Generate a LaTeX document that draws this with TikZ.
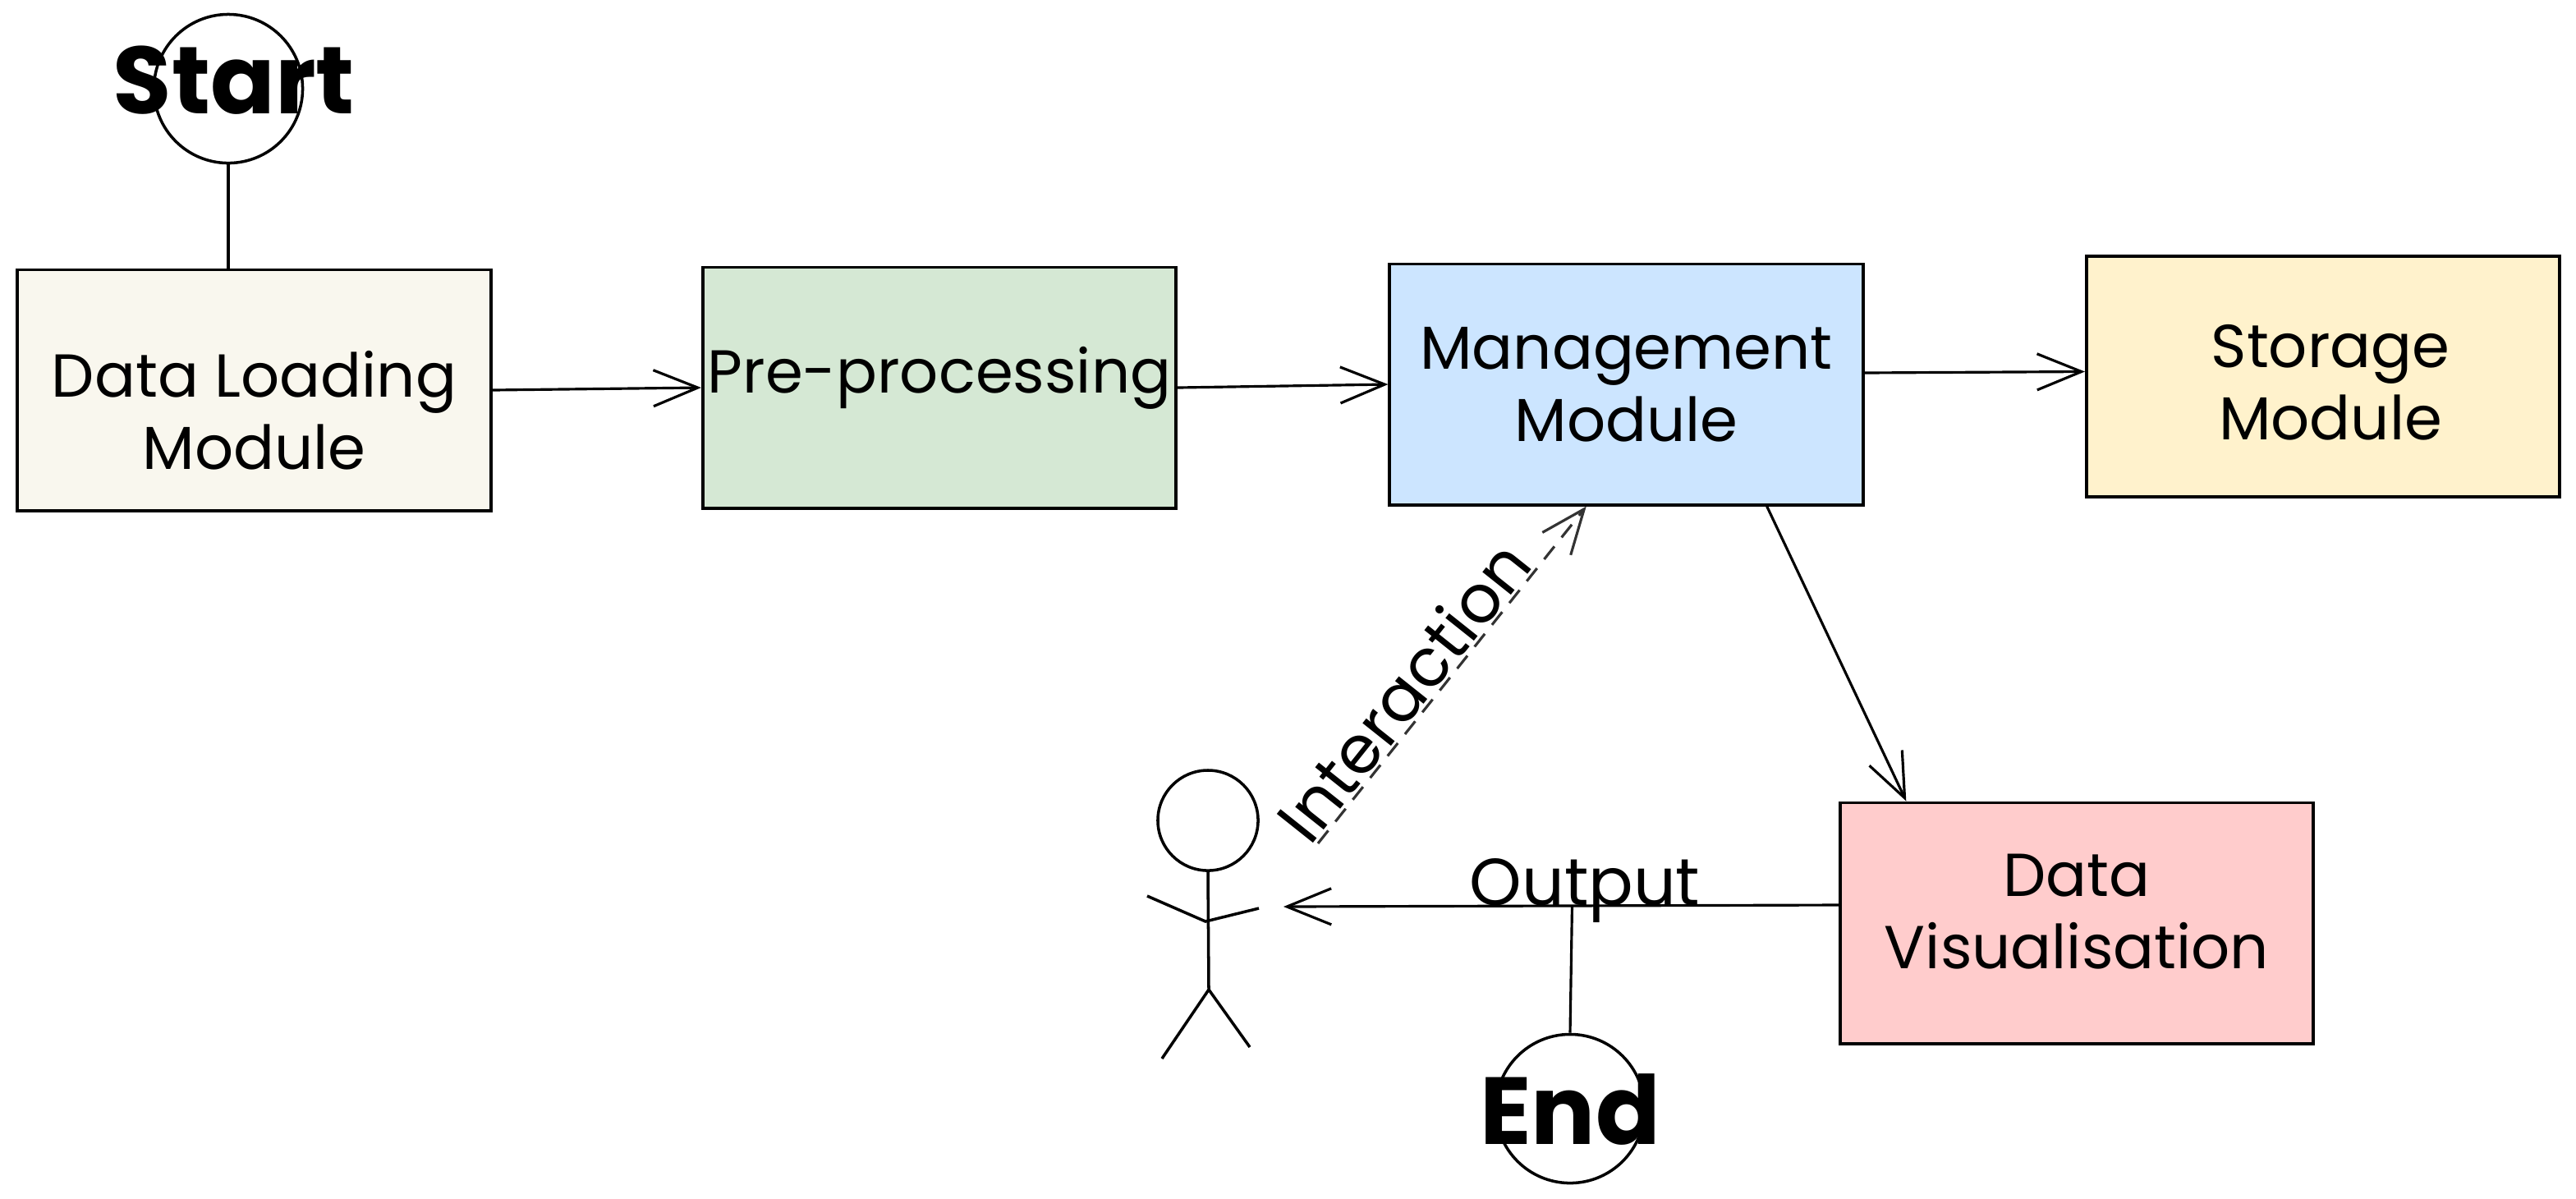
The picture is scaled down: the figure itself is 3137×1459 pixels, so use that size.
\documentclass[tikz,border=0pt]{standalone}
\usepackage{fontspec}
\setmainfont{Poppins}
\usetikzlibrary{arrows.meta,calc}
\definecolor{dlfill}{HTML}{F9F7EE}
\definecolor{ppfill}{HTML}{D5E8D4}
\definecolor{mmfill}{HTML}{CCE5FF}
\definecolor{smfill}{HTML}{FFF2CC}
\definecolor{dvfill}{HTML}{FFCCCC}
\tikzset{
  box/.style={draw=black, line width=1.1pt, rectangle, minimum width=5.76cm, minimum height=2.93cm, inner sep=0pt, align=center, font=\fontsize{21}{25}\selectfont},
  boxtxt/.style={inner sep=0pt, align=center, font=\fontsize{21}{25}\selectfont},
  arr/.style={draw=black, line width=0.9pt, -{Straight Barb[length=5.4mm,width=4.4mm,line width=0.9pt]}},
  conn/.style={draw=black, line width=0.9pt},
  dasharr/.style={draw=black!80, line width=0.9pt, dash pattern=on 0.2cm off 0.14cm, -{Straight Barb[length=5.4mm,width=4.4mm,line width=0.9pt]}},
  termcirc/.style={draw=black, line width=1pt, circle, minimum size=1.81cm, inner sep=0pt},
  termtxt/.style={font=\bfseries\fontsize{33}{36}\selectfont, inner sep=0pt},
  lbl/.style={font=\fontsize{23}{26}\selectfont, inner sep=2pt},
  actor/.style={draw=black, line width=1pt}
}
\begin{document}
\begin{tikzpicture}[x=0.01cm,y=-0.01cm]
\useasboundingbox (0,0) rectangle (3137,1459);
% boxes
\node[box, fill=dlfill] (dl) at (309.5,475) {};
\node[boxtxt] (dltxt) at (309.5,500) {Data Loading\\Module};
\node[box, fill=ppfill] (pp) at (1144,472) {};
\node[boxtxt] (pptxt) at (1144,460) {Pre-processing};
\node[box, fill=mmfill] (mm) at (1980.5,468) {Management\\Module};
\node[box, fill=smfill] (sm) at (2829,458.5) {};
\node[boxtxt] (smtxt) at (2838,466) {Storage\\Module};
\node[box, fill=dvfill] (dv) at (2529,1124) {};
\node[boxtxt] (dvtxt) at (2529,1110) {Data\\Visualisation};
% start / end
\node[termcirc] (start) at (278,108) {};
\node[termtxt] (starttxt) at (285,98) {Start};
\node[termcirc] (endc) at (1912,1350) {};
\node[termtxt] (endtxt) at (1912,1351) {End};
% actor
\node[actor, circle, minimum size=1.22cm, inner sep=0pt] (head) at (1471,999) {};
\coordinate (hip) at (1472,1205);
\coordinate (armjoin) at (1468,1122);
\draw[actor] (head.south) -- (hip);
\draw[actor] (1397,1091) -- (armjoin) -- (1533,1106);
\draw[actor] (hip) -- (1415,1289);
\draw[actor] (hip) -- (1522,1275);
\coordinate (actarm) at (1563,1104);
\coordinate (actint) at (1605,1027);
% connectors
\draw[conn] (start.south) -- (start.south |- dl.north);
\draw[arr] (dl.east) -- (pp.west);
\draw[arr] (pp.east) -- (mm.west);
\draw[arr] ([yshift=0.14cm]mm.east) -- ([yshift=0.06cm]sm.west);
\draw[arr] ($(mm.south west)!0.795!(mm.south east)$) -- ($(dv.north west)!0.142!(dv.north east)$);
\draw[arr] ([yshift=0.22cm]dv.west) -- (actarm) coordinate[pos=0.48] (outjoin);
\node[lbl, anchor=base] (outlbl) at (1930,1102) {Output};
\draw[conn] (outjoin) -- (endc.north);
\draw[dasharr] (actint) -- node[lbl, sloped, above, pos=0.40, yshift=-0.05cm] (intlbl) {Interaction} ($(mm.south west)!0.416!(mm.south east)$);
\end{tikzpicture}
\end{document}
